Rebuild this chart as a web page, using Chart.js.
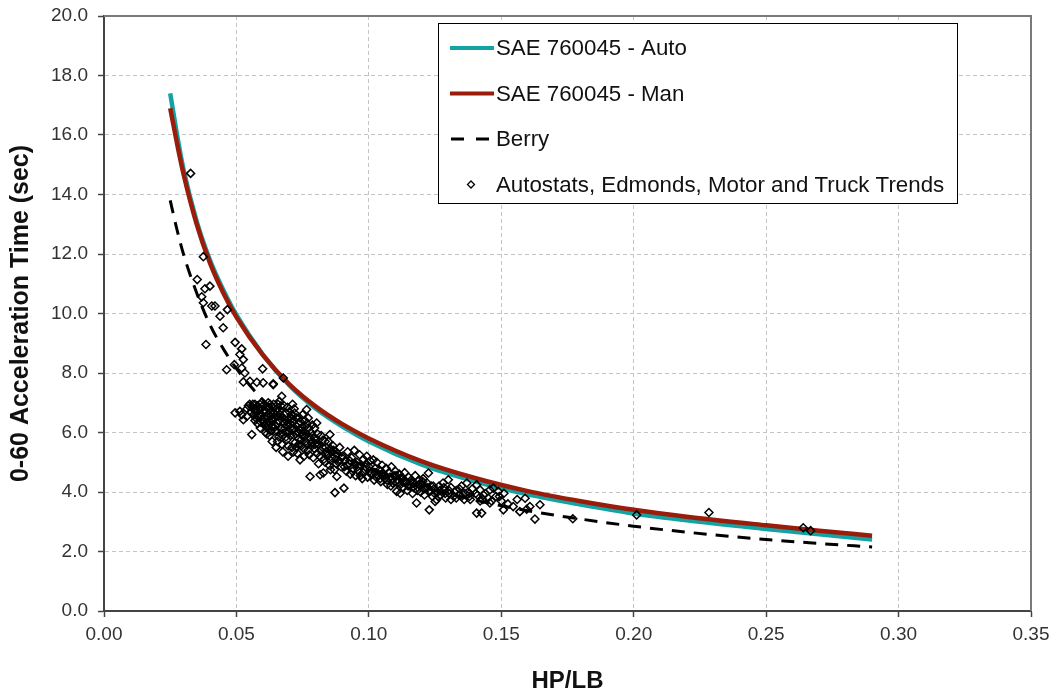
<!DOCTYPE html>
<html>
<head>
<meta charset="utf-8">
<script src="https://cdn.jsdelivr.net/npm/chart.js@4/dist/chart.umd.min.js"></script>
<style>
  body { margin: 0; background: #fff; }
  #wrap { width: 1051px; height: 694px; position: relative; }
</style>
</head>
<body>
<div id="wrap"><canvas id="accelChart"></canvas></div>
<script>
// Curve sample points (HP/LB)
const curveHp = [0.025, 0.0275, 0.03, 0.035, 0.04, 0.045, 0.05, 0.06, 0.07, 0.08, 0.09, 0.10, 0.12, 0.14, 0.16, 0.18, 0.20, 0.22, 0.25, 0.27, 0.29];
const saeAuto = [17.4, 16.05, 14.85, 13.1, 11.8, 10.8, 9.95, 8.62, 7.58, 6.8, 6.2, 5.7, 4.92, 4.36, 3.92, 3.58, 3.28, 3.05, 2.76, 2.58, 2.40];
const saeMan = [16.9, 15.75, 14.7, 13.0, 11.7, 10.7, 9.88, 8.6, 7.62, 6.87, 6.28, 5.8, 5.03, 4.47, 4.03, 3.69, 3.40, 3.17, 2.88, 2.70, 2.53];
const berry = [13.8, 12.84, 12.0, 10.69, 9.62, 8.82, 8.15, 7.1, 6.32, 5.71, 5.22, 4.82, 4.19, 3.73, 3.37, 3.09, 2.85, 2.65, 2.40, 2.27, 2.15];

// Measured vehicles (Autostats, Edmonds, Motor and Truck Trends)
const vehHp = [
  0.0327, 0.0352, 0.0369, 0.0375, 0.0375, 0.0381, 0.0400, 0.0385, 0.0407, 0.0419, 0.0438, 0.0450, 0.0466, 0.0463, 0.0492, 0.0495,
  0.0513, 0.0520, 0.0526, 0.0520, 0.0532, 0.0599, 0.0551, 0.0577, 0.0601, 0.0639, 0.0671, 0.0677, 0.0526, 0.0639,
  0.0495, 0.0513, 0.0526, 0.0539, 0.0558, 0.0520, 0.0540, 0.0545, 0.0550,
  0.0560, 0.0570, 0.0575, 0.0580, 0.0585, 0.0590, 0.0595, 0.0565, 0.0570, 0.0580, 0.0590, 0.0598, 0.0600, 0.0602, 0.0605, 0.0610,
  0.0612, 0.0615, 0.0620, 0.0622, 0.0625, 0.0630, 0.0632, 0.0635, 0.0640, 0.0642, 0.0645, 0.0650, 0.0652, 0.0655, 0.0660, 0.0662,
  0.0665, 0.0670, 0.0672, 0.0675, 0.0680, 0.0682, 0.0685, 0.0690, 0.0695, 0.0700, 0.0702, 0.0705, 0.0710, 0.0712, 0.0715, 0.0720,
  0.0725, 0.0730, 0.0732, 0.0735, 0.0740, 0.0742, 0.0745, 0.0750, 0.0752, 0.0755, 0.0760, 0.0762, 0.0765, 0.0770, 0.0771, 0.0775,
  0.0778, 0.0780, 0.0785, 0.0790, 0.0795, 0.0800, 0.0803, 0.0805, 0.0810, 0.0816, 0.0820, 0.0825, 0.0828, 0.0830, 0.0835, 0.0840,
  0.0847, 0.0850, 0.0853, 0.0855, 0.0860, 0.0865, 0.0870, 0.0872, 0.0879, 0.0880, 0.0885, 0.0890, 0.0895, 0.0900, 0.0906, 0.0910,
  0.0915, 0.0920, 0.0925, 0.0930, 0.0935, 0.0940, 0.0945, 0.0950, 0.0955, 0.0960, 0.0965, 0.0970, 0.0975, 0.0980, 0.0985, 0.0990,
  0.0992, 0.0995, 0.1000, 0.1005, 0.1010, 0.1017, 0.1020, 0.1025, 0.1030, 0.1035, 0.1040, 0.1045, 0.1050, 0.1055, 0.1060, 0.1065,
  0.1070, 0.1075, 0.1080, 0.1085, 0.1090, 0.1095, 0.1100, 0.1105, 0.1110, 0.1115, 0.1118, 0.1120, 0.1125, 0.1130, 0.1135, 0.1140,
  0.1145, 0.1150, 0.1155, 0.1160, 0.1165, 0.1170, 0.1175, 0.1180, 0.1185, 0.1190, 0.1195, 0.1200, 0.1205, 0.1210, 0.1215, 0.1220,
  0.1225, 0.1228, 0.1230, 0.1235, 0.1240, 0.1245, 0.1250, 0.1256, 0.1260, 0.1265, 0.1270, 0.1280, 0.1285, 0.1290, 0.1300, 0.1305,
  0.1310, 0.1320, 0.1330, 0.1340, 0.1350, 0.1360, 0.1370, 0.1375, 0.1380, 0.1390, 0.1407, 0.1407, 0.1410, 0.1420, 0.1426, 0.1430,
  0.1440, 0.1457, 0.1457, 0.1470, 0.1480, 0.1489, 0.1500, 0.1508, 0.1510, 0.1525, 0.1545, 0.1560, 0.1570, 0.1590, 0.1596, 0.1608,
  0.1627, 0.1646, 0.1770, 0.2011, 0.2284, 0.2640, 0.2668,
  0.0568, 0.0578, 0.0588, 0.0592, 0.0608, 0.0618, 0.0628, 0.0638, 0.0648, 0.0658, 0.0668, 0.0678, 0.0688, 0.0698, 0.0708, 0.0718,
  0.0728, 0.0738, 0.0748, 0.0758, 0.0615, 0.0635, 0.0655, 0.0675, 0.0695, 0.0715, 0.0735, 0.0755, 0.0775, 0.0795, 0.0815, 0.0835,
  0.0855, 0.0630, 0.0660, 0.0690, 0.0720, 0.0745, 0.0768, 0.0788, 0.0810, 0.0838, 0.0860, 0.0875, 0.0898, 0.0918, 0.0938, 0.0958,
  0.0978, 0.1008, 0.1028, 0.1048, 0.1068, 0.1088, 0.1108, 0.1128, 0.1148, 0.1168, 0.1188, 0.1208, 0.1228, 0.1248, 0.1268, 0.1288,
  0.1310, 0.1330, 0.1350, 0.1380, 0.1420, 0.1450,
  0.0555, 0.0562, 0.0572, 0.0583, 0.0593, 0.0603, 0.0613, 0.0623, 0.0633, 0.0643, 0.0653, 0.0663, 0.0673, 0.0683, 0.0693, 0.0703,
  0.0713, 0.0723, 0.0733, 0.0743, 0.0753, 0.0763, 0.0773, 0.0783, 0.0793,
  0.0607, 0.0617, 0.0627, 0.0637, 0.0647, 0.0657, 0.0667, 0.0687, 0.0697, 0.0707, 0.0717, 0.0727, 0.0737, 0.0757, 0.0767, 0.0787,
  0.0797, 0.0807, 0.0817, 0.0827, 0.0837, 0.0847, 0.0857, 0.0867, 0.0877,
  0.0888, 0.0908, 0.0928, 0.0948, 0.0968, 0.0988, 0.1003, 0.1023, 0.1043, 0.1063, 0.1083, 0.1103, 0.1123, 0.1143, 0.1163, 0.1183,
  0.1203, 0.1223, 0.1243, 0.1263, 0.1283, 0.1303, 0.1323, 0.1343, 0.1363, 0.1383, 0.1403, 0.1433, 0.1463, 0.1493
];
const vehTime = [
  14.71, 11.14, 10.56, 11.91, 10.36, 10.83, 10.92, 8.96, 10.25, 10.25, 9.91, 9.52, 10.13, 8.11, 8.28, 9.03,
  8.62, 8.81, 8.45, 8.17, 8.00, 8.14, 7.72, 7.69, 7.67, 7.61, 7.22, 7.83, 7.70, 7.64,
  6.66, 6.71, 6.43, 6.54, 5.93, 6.60, 6.80, 6.90, 6.95,
  6.85, 6.95, 6.75, 6.90, 6.60, 6.80, 7.00, 6.60, 6.40, 6.30, 6.15, 6.45, 6.90, 6.70, 6.25, 6.00,
  6.55, 6.85, 7.00, 6.40, 5.90, 6.70, 6.20, 5.70, 6.95, 6.50, 6.05, 5.50, 6.80, 6.30, 5.85, 7.05,
  6.60, 6.15, 5.60, 5.35, 6.90, 6.45, 6.00, 5.75, 5.20, 6.70, 6.30, 5.90, 5.50, 6.95, 6.10, 5.65,
  6.50, 5.30, 6.00, 5.80, 5.08, 6.35, 5.55, 6.60, 5.95, 5.20, 6.20, 5.70, 6.77, 5.40, 6.49, 5.85,
  4.52, 6.00, 5.55, 5.15, 6.15, 5.75, 6.32, 5.30, 4.95, 4.58, 5.90, 5.50, 4.64, 5.10, 5.70, 5.35,
  5.70, 4.90, 5.93, 5.45, 5.15, 5.55, 4.75, 3.98, 4.52, 5.30, 5.00, 5.50, 4.85, 5.20, 4.13, 5.05,
  4.70, 5.35, 4.95, 4.60, 5.15, 4.80, 5.40, 4.55, 5.00, 4.70, 5.25, 4.90, 4.45, 5.10, 4.75, 4.95,
  5.20, 4.50, 4.85, 5.05, 4.65, 5.08, 4.40, 4.80, 5.00, 4.55, 4.75, 4.35, 4.90, 4.60, 4.45, 4.80,
  4.25, 4.65, 4.50, 4.85, 4.30, 4.55, 4.70, 4.02, 4.40, 4.60, 3.96, 4.25, 4.50, 4.15, 4.65, 4.35,
  4.05, 4.50, 4.20, 4.40, 3.95, 4.30, 4.55, 3.63, 4.15, 4.40, 4.00, 4.25, 4.45, 3.90, 4.15, 4.30,
  4.64, 3.40, 4.05, 4.20, 3.85, 4.10, 3.68, 3.74, 4.00, 4.20, 3.90, 4.30, 4.05, 3.80, 4.41, 3.95,
  4.15, 3.85, 4.05, 3.90, 4.20, 3.75, 4.30, 4.00, 3.85, 4.10, 4.24, 3.29, 3.90, 4.07, 3.29, 3.75,
  3.95, 3.63, 4.07, 4.13, 3.85, 4.02, 3.70, 3.40, 3.96, 3.60, 3.51, 3.75, 3.34, 3.79, 3.42, 3.51,
  3.09, 3.57, 3.10, 3.23, 3.31, 2.80, 2.70,
  6.75, 6.55, 6.95, 6.35, 6.75, 6.25, 6.55, 6.85, 6.20, 6.55, 6.90, 6.30, 6.65, 6.05, 6.45, 6.80,
  6.20, 6.50, 5.90, 6.40, 5.95, 6.40, 5.70, 5.90, 5.55, 5.35, 5.60, 5.45, 5.25, 5.45, 5.20, 5.00,
  4.75, 6.05, 6.40, 6.25, 6.65, 6.15, 5.60, 5.90, 5.60, 5.25, 5.35, 5.10, 5.15, 4.90, 4.70, 4.85,
  4.65, 4.60, 4.50, 4.60, 4.40, 4.45, 4.30, 4.35, 4.20, 4.15, 4.25, 4.10, 4.00, 3.95, 4.05, 3.95,
  3.75, 3.80, 3.85, 3.95, 3.70, 3.80,
  6.70, 6.95, 6.50, 6.80, 6.55, 6.35, 6.70, 6.85, 6.45, 6.65, 6.05, 6.75, 6.50, 6.15, 6.85, 6.15,
  6.35, 5.95, 6.30, 5.75, 6.05, 5.95, 6.15, 5.65, 5.80,
  6.50, 6.15, 6.95, 6.20, 6.75, 6.95, 5.95, 5.85, 6.45, 6.60, 5.90, 5.50, 6.10, 5.85, 6.30, 6.25,
  5.60, 5.95, 5.40, 5.75, 5.50, 5.25, 5.05, 5.40, 4.95,
  5.05, 4.85, 5.05, 4.95, 4.55, 4.85, 4.70, 4.65, 4.45, 4.55, 4.20, 4.55, 4.45, 4.30, 4.30, 4.05,
  4.35, 4.15, 4.20, 3.85, 4.15, 4.05, 4.00, 4.10, 3.95, 3.75, 3.95, 3.90, 3.70, 3.85
];

const xTicks = [0, 0.05, 0.10, 0.15, 0.20, 0.25, 0.30, 0.35];

const tealColor = '#13a3a3';
const redColor = '#9a1c0a';

function pairs(xs, ys) {
  return xs.map((x, i) => ({ x: x, y: ys[i] }));
}

// Frame on top and right, plus legend box inside the plot
const framePlugin = {
  id: 'frameAndLegend',
  afterDraw(chart) {
    const { ctx, chartArea: a } = chart;
    ctx.save();
    ctx.strokeStyle = '#7a7a7a';
    ctx.lineWidth = 2;
    ctx.beginPath();
    ctx.moveTo(a.left, a.top);
    ctx.lineTo(a.right, a.top);
    ctx.lineTo(a.right, a.bottom);
    ctx.stroke();

    // legend
    const bx = 438, by = 23, bw = 519, bh = 180;
    ctx.fillStyle = '#fff';
    ctx.fillRect(bx, by, bw, bh);
    ctx.strokeStyle = '#000';
    ctx.lineWidth = 1;
    ctx.strokeRect(bx + 0.5, by + 0.5, bw, bh);

    const rows = [
      { text: 'SAE 760045 - Auto', kind: 'line', color: tealColor },
      { text: 'SAE 760045 - Man', kind: 'line', color: redColor },
      { text: 'Berry', kind: 'dash', color: '#000' },
      { text: 'Autostats, Edmonds, Motor and Truck Trends', kind: 'dot', color: '#000' }
    ];
    const rowY = [48, 93.5, 139, 184.5];
    ctx.font = '22.3px "Liberation Sans", Arial, sans-serif';
    ctx.textBaseline = 'middle';
    rows.forEach((r, i) => {
      const y = rowY[i];
      ctx.strokeStyle = r.color;
      if (r.kind === 'line') {
        ctx.lineWidth = 4;
        ctx.setLineDash([]);
        ctx.beginPath(); ctx.moveTo(450, y); ctx.lineTo(494, y); ctx.stroke();
      } else if (r.kind === 'dash') {
        ctx.lineWidth = 3;
        ctx.setLineDash([13, 12]);
        ctx.beginPath(); ctx.moveTo(451, y); ctx.lineTo(494, y); ctx.stroke();
        ctx.setLineDash([]);
      } else {
        ctx.lineWidth = 1.3;
        ctx.beginPath();
        ctx.moveTo(471, y - 3.5); ctx.lineTo(474.5, y); ctx.lineTo(471, y + 3.5); ctx.lineTo(467.5, y); ctx.closePath();
        ctx.stroke();
      }
      ctx.fillStyle = '#111';
      ctx.fillText(r.text, 496, y + 1);
    });
    ctx.restore();
  }
};

new Chart(document.getElementById('accelChart').getContext('2d'), {
  type: 'scatter',
  data: {
    datasets: [
      {
        label: 'Autostats, Edmonds, Motor and Truck Trends',
        data: pairs(vehHp, vehTime),
        pointStyle: 'rectRot',
        pointRadius: 4,
        pointBorderWidth: 1.5,
        pointBorderColor: '#000',
        pointBackgroundColor: 'rgba(255,255,255,0)',
        order: 0
      },
      {
        label: 'Berry',
        data: pairs(curveHp, berry),
        showLine: true,
        borderColor: '#000',
        borderWidth: 3,
        borderDash: [13, 9],
        pointRadius: 0,
        cubicInterpolationMode: 'monotone',
        order: 1
      },
      {
        label: 'SAE 760045 - Man',
        data: pairs(curveHp, saeMan),
        showLine: true,
        borderColor: redColor,
        borderWidth: 4.5,
        pointRadius: 0,
        cubicInterpolationMode: 'monotone',
        order: 2
      },
      {
        label: 'SAE 760045 - Auto',
        data: pairs(curveHp, saeAuto),
        showLine: true,
        borderColor: tealColor,
        borderWidth: 4.5,
        pointRadius: 0,
        cubicInterpolationMode: 'monotone',
        order: 3
      }
    ]
  },
  options: {
    responsive: true,
    maintainAspectRatio: false,
    animation: false,
    layout: { padding: { left: 0, top: 16, right: 20, bottom: 0 } },
    plugins: {
      legend: { display: false },
      tooltip: { enabled: false }
    },
    scales: {
      x: {
        type: 'linear',
        min: 0,
        max: 0.35,
        afterBuildTicks: (scale) => { scale.ticks = xTicks.map(v => ({ value: v })); },
        afterFit: (scale) => {
          scale.height = 83;
          scale.paddingLeft = 0;
          scale.paddingRight = 0;
        },
        ticks: {
          color: '#333',
          font: { family: '"Liberation Sans", Arial, sans-serif', size: 19 },
          padding: 6,
          callback: (v) => Number(v).toFixed(2)
        },
        grid: { color: '#c4c4c4', tickColor: '#444', tickLength: 6, tickWidth: 1.5 },
        border: { color: '#444', width: 2, dash: [4, 3] },
        title: {
          display: true,
          text: 'HP/LB',
          color: '#111',
          font: { family: '"Liberation Sans", Arial, sans-serif', size: 24, weight: 'bold', lineHeight: 1 },
          padding: { top: 0, bottom: 1 }
        }
      },
      y: {
        type: 'linear',
        min: 0,
        max: 20,
        afterFit: (scale) => {
          scale.width = 104;
          scale.paddingTop = 0;
          scale.paddingBottom = 0;
        },
        ticks: {
          stepSize: 2,
          color: '#333',
          font: { family: '"Liberation Sans", Arial, sans-serif', size: 19 },
          padding: 10,
          callback: (v) => Number(v).toFixed(1)
        },
        grid: { color: '#c4c4c4', tickColor: '#444', tickLength: 6, tickWidth: 1.5 },
        border: { color: '#444', width: 2, dash: [4, 3] },
        title: {
          display: true,
          text: '0-60 Acceleration Time (sec)',
          color: '#111',
          font: { family: '"Liberation Sans", Arial, sans-serif', size: 25, weight: 'bold', lineHeight: 1 },
          padding: { top: 9, bottom: 0 }
        }
      }
    }
  },
  plugins: [framePlugin]
});
</script>
</body>
</html>
